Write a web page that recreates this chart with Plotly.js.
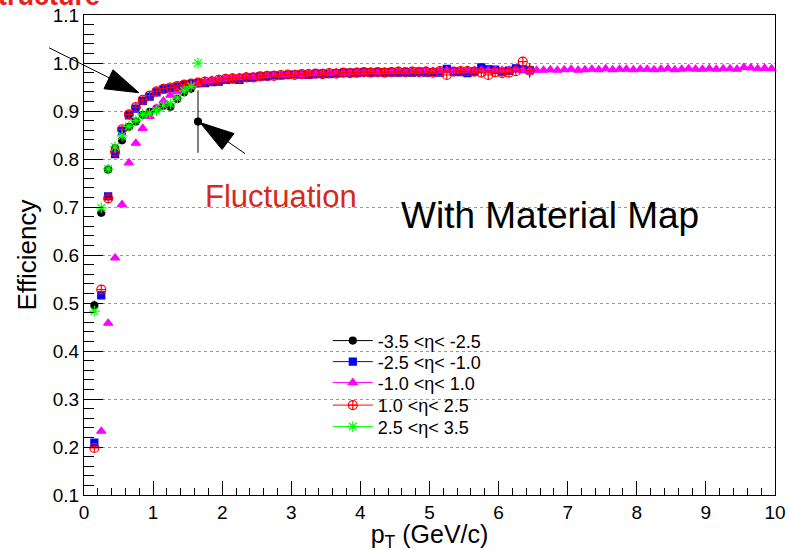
<!DOCTYPE html>
<html><head><meta charset="utf-8">
<script src="https://cdn.plot.ly/plotly-3.0.1.min.js"></script>
<style>html,body{margin:0;padding:0;background:#fff}#chart{width:789px;height:552px}</style>
</head><body><div id="chart"></div>
<script>
// pT bin centres (GeV/c)
const ptBins = [0.15,0.25,0.35,0.45,0.55,0.65,0.75,0.85,0.95,1.05,
1.15,1.25,1.35,1.45,1.55,1.65,1.75,1.85,1.95,2.05,
2.15,2.25,2.35,2.45,2.55,2.65,2.75,2.85,2.95,3.05,
3.15,3.25,3.35,3.45,3.55,3.65,3.75,3.85,3.95,4.05,
4.15,4.25,4.35,4.45,4.55,4.65,4.75,4.85,4.95,5.05,
5.15,5.25,5.35,5.45,5.55,5.65,5.75,5.85,5.95,6.05,
6.15,6.25,6.35,6.45,6.55,6.65,6.75,6.85,6.95,7.05,
7.15,7.25,7.35,7.45,7.55,7.65,7.75,7.85,7.95,8.05,
8.15,8.25,8.35,8.45,8.55,8.65,8.75,8.85,8.95,9.05,
9.15,9.25,9.35,9.45,9.55,9.65,9.75,9.85,9.95];

const seriesNames = ['-3.5 <η< -2.5','-2.5 <η< -1.0','-1.0 <η< 1.0','1.0 <η< 2.5','2.5 <η< 3.5'];

// -3.5 < eta < -2.5  (0.15 .. 1.65)
const effEtaM35 = [0.495,0.688,0.778,0.822,0.839,0.867,0.878,0.892,0.898,0.905,0.911,0.909,0.925,0.939,0.947,0.878];
const errEtaM35 = [0.01,0.008,0.006,0.005,0.005,0.005,0.005,0.005,0.005,0.005,0.006,0.006,0.007,0.008,0.01,0.065];
// -2.5 < eta < -1.0  (0.15 .. 6.45)
const effEtaM25 = [0.209,0.516,0.722,0.810,0.859,0.891,0.905,0.921,0.930,0.939,
0.945,0.947,0.951,0.954,0.956,0.958,0.958,0.960,0.961,0.965,
0.966,0.965,0.969,0.970,0.972,0.972,0.974,0.974,0.975,0.976,
0.976,0.975,0.977,0.978,0.977,0.979,0.979,0.980,0.979,0.981,
0.980,0.981,0.980,0.981,0.980,0.981,0.980,0.982,0.980,0.981,
0.980,0.988,0.982,0.981,0.979,0.982,0.991,0.987,0.986,0.982,
0.984,0.989,0.987,0.985];
// -1.0 < eta < 1.0  (0.25 .. 9.95)
const effEtaM10 = [0.233,0.458,0.594,0.705,0.792,0.833,0.864,0.889,0.906,0.921,
0.933,0.940,0.946,0.952,0.957,0.962,0.964,0.966,0.968,0.969,
0.970,0.972,0.971,0.973,0.974,0.975,0.975,0.976,0.977,0.976,
0.978,0.978,0.979,0.979,0.980,0.979,0.980,0.981,0.981,0.982,
0.981,0.982,0.982,0.983,0.982,0.983,0.983,0.984,0.983,0.984,
0.984,0.983,0.984,0.985,0.984,0.985,0.984,0.985,0.985,0.985,
0.986,0.985,0.984,0.985,0.985,0.986,0.985,0.986,0.987,0.985,
0.986,0.987,0.986,0.988,0.986,0.987,0.987,0.986,0.987,0.987,
0.986,0.987,0.988,0.986,0.987,0.988,0.987,0.987,0.988,0.987,
0.988,0.988,0.987,0.991,0.990,0.988,0.989,0.988];
// 1.0 < eta < 2.5  (0.15 .. 6.45)
const effEtaP10 = [0.198,0.528,0.718,0.815,0.862,0.893,0.908,0.923,0.932,0.941,
0.946,0.949,0.952,0.955,0.957,0.959,0.961,0.962,0.965,0.967,
0.968,0.968,0.970,0.970,0.972,0.973,0.973,0.975,0.976,0.975,
0.977,0.977,0.978,0.977,0.979,0.978,0.980,0.979,0.980,0.981,
0.980,0.981,0.980,0.981,0.982,0.981,0.982,0.981,0.982,0.980,
0.983,0.975,0.982,0.983,0.983,0.982,0.980,0.975,0.981,0.979,
0.980,0.983,1.003,0.984];
// 2.5 < eta < 3.5  (0.15 .. 1.65)
const effEtaP25 = [0.483,0.698,0.779,0.825,0.848,0.868,0.880,0.893,0.896,0.901,0.912,0.915,0.927,0.942,0.951,1.000];
const lastBinErr = 0.015;

const colors = ['#000000','#0000ff','#ff00ff','#ff0000','#00ff00'];
const symbols = ['circle','square','triangle-up','circle-cross-open','asterisk-open'];
const sizes = [7,7,8,9,9];
const legendIds = ['legend','legend2','legend3','legend4','legend5'];
const legendRowY = [0.3596,0.3158,0.2721,0.2252,0.1804];

// interleave nulls so a legend line is shown but points are not joined
function gap(arr){ const o=[]; arr.forEach((v,i)=>{ o.push(v); if(i<arr.length-1) o.push(null); }); return o; }

const xs = [ptBins.slice(0,16), ptBins.slice(0,64), ptBins.slice(1,99), ptBins.slice(0,64), ptBins.slice(0,16)];
const ys = [effEtaM35, effEtaM25, effEtaM10, effEtaP10, effEtaP25];
const errs = [errEtaM35, effEtaM25.map((v,i,a)=> i===a.length-1 ? lastBinErr : 0), effEtaM10.map(()=>0),
              effEtaP10.map((v,i,a)=> i===a.length-1 ? lastBinErr : 0), effEtaP25.map(()=>0)];

const traces = ys.map((y,k)=>({
  type:'scatter', mode:'lines+markers', name: seriesNames[k], legend: legendIds[k],
  x: gap(xs[k]), y: gap(y), connectgaps:false,
  line:{color:colors[k], width:1},
  marker:{symbol:symbols[k], size:sizes[k], color:colors[k], line:{color:colors[k], width:1.2}},
  error_y:{type:'data', array: gap(errs[k]), visible:true, width:0, thickness:1, color:colors[k]},
  cliponaxis:false
}));

const F = 'Liberation Sans, Arial, sans-serif';
const layout = {
  width:789, height:552,
  margin:{l:84, r:14, t:15, b:57},
  paper_bgcolor:'#fff', plot_bgcolor:'#fff',
  font:{family:F, color:'#000'},
  showlegend:true,
  xaxis:{range:[0,10], dtick:1, tick0:0, ticks:'inside', ticklen:14, tickcolor:'#000',
         minor:{dtick:0.2, ticks:'inside', ticklen:7, tickcolor:'#000', showgrid:false},
         showgrid:false, zeroline:false, showline:true, mirror:true, linecolor:'#000', linewidth:1,
         tickfont:{size:19, family:F},
         title:{text:'p<sub>T</sub> (GeV/c)', font:{size:25, family:F}, standoff:9}},
  yaxis:{range:[0.1,1.1], dtick:0.1, tick0:0.1, ticks:'inside', ticklen:19, tickcolor:'#000',
         minor:{dtick:0.02, ticks:'inside', ticklen:10, tickcolor:'#000', showgrid:false},
         showgrid:true, gridcolor:'#999', griddash:'dot', gridwidth:1,
         zeroline:false, showline:true, mirror:true, linecolor:'#000', linewidth:1,
         tickfont:{size:19, family:F}, tickformat:'.1f',
         title:{text:'Efficiency', font:{size:26, family:F}, standoff:8}},
  annotations:[
    {xref:'paper', yref:'paper', x:0.026, y:1.039, xanchor:'right', yanchor:'middle', showarrow:false,
     text:'Structure', font:{size:27, color:'#e8211c', family:F, weight:'bold'}},
    {xref:'paper', yref:'paper', x:0.285, y:0.621, xanchor:'center', yanchor:'middle', showarrow:false,
     text:'Fluctuation', font:{size:31, color:'#d42a20', family:F}},
    {xref:'paper', yref:'paper', x:0.6745, y:0.583, xanchor:'center', yanchor:'middle', showarrow:false,
     text:'With Material Map', font:{size:37, color:'#000', family:F}}
  ],
  shapes:[
    {type:'path', xref:'paper', yref:'paper', xsizemode:'pixel', ysizemode:'pixel', xanchor:0.0796, yanchor:0.838,
     path:'M0,0 L-90,45', line:{color:'#000', width:1}},
    {type:'path', xref:'paper', yref:'paper', xsizemode:'pixel', ysizemode:'pixel', xanchor:0.0796, yanchor:0.838,
     path:'M0,0 L-26,23 L-35,4 Z', fillcolor:'#000', line:{color:'#000', width:1}},
    {type:'path', xref:'x', yref:'y', xsizemode:'pixel', ysizemode:'pixel', xanchor:ptBins[15], yanchor:effEtaM35[15],
     path:'M2,-1 L47,-32', line:{color:'#000', width:1}},
    {type:'path', xref:'x', yref:'y', xsizemode:'pixel', ysizemode:'pixel', xanchor:ptBins[15], yanchor:effEtaM35[15],
     path:'M2,-1 L36,-12 L24,-28 Z', fillcolor:'#000', line:{color:'#000', width:1}}
  ]
};
legendIds.forEach((id,k)=>{
  layout[id] = {x:0.3528, y:legendRowY[k], xanchor:'left', yanchor:'top', bgcolor:'rgba(0,0,0,0)', borderwidth:0,
                font:{size:18, family:F}, itemwidth:40};
});
Plotly.newPlot('chart', traces, layout, {displayModeBar:false, staticPlot:true});
</script>
</body></html>
